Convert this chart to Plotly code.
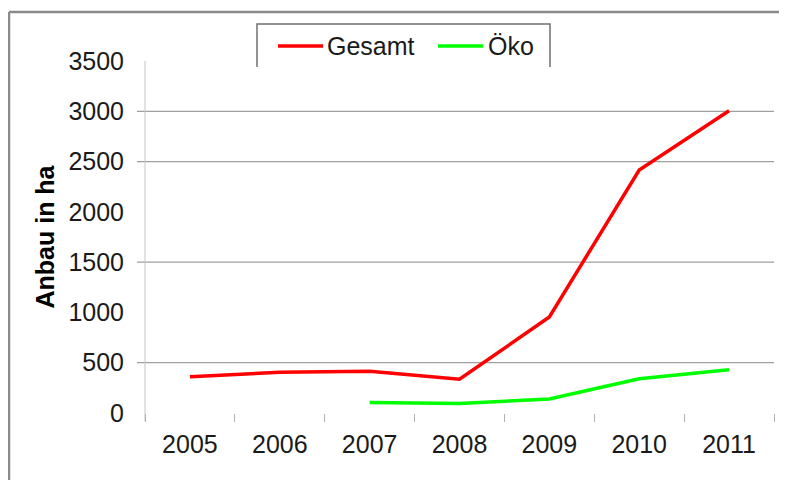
import plotly.graph_objects as go

years = ["2005", "2006", "2007", "2008", "2009", "2010", "2011"]
gesamt = [360, 405, 415, 335, 955, 2415, 3005]
oeko = [None, None, 105, 95, 140, 340, 430]
y_ticks = [0, 500, 1000, 1500, 2000, 2500, 3000, 3500]
grid_values = [500, 1500, 2500, 3000]
series_names = ["Gesamt", "Öko"]
series_colors = ["#ff0000", "#00ff00"]

FONT = "Liberation Sans, Arial, sans-serif"
OFF = 8  # page body margin offset
W, H = 787 - OFF, 480 - OFF
# plot area in window coordinates: x 145..774, y 61..413
L, T = 145 - OFF, 61 - OFF
R, B = (W + OFF) - 774, (H + OFF) - 413
PW, PH = W - L - R, H - T - B


def px(x):
    return (x - OFF - L) / PW


def py(y):
    return (H - B - (y - OFF)) / PH


fig = go.Figure()
fig.add_trace(go.Scatter(x=years, y=gesamt, mode="lines", name=series_names[0],
                         line=dict(color=series_colors[0], width=3.5), showlegend=False))
fig.add_trace(go.Scatter(x=years, y=oeko, mode="lines", name=series_names[1],
                         line=dict(color=series_colors[1], width=3.5), showlegend=False))

shapes = []
for g in grid_values:
    shapes.append(dict(type="line", xref="paper", yref="y", x0=px(137), x1=1, y0=g, y1=g,
                       line=dict(color="#a0a0a0", width=1.2), layer="below"))
# y axis line (extends a bit below zero like the tick marks)
shapes.append(dict(type="line", xref="paper", yref="paper", x0=0, x1=0, y0=py(421), y1=1,
                   line=dict(color="#c4c4c4", width=1), layer="below"))
# outer frame: top and left edges (right/bottom lie outside the picture)
shapes.append(dict(type="line", xref="paper", yref="paper",
                   x0=px(9), x1=px(800), y0=py(12), y1=py(12),
                   line=dict(color="#8a8a8a", width=2.5), layer="below"))
shapes.append(dict(type="line", xref="paper", yref="paper",
                   x0=px(9), x1=px(9), y0=py(490), y1=py(12),
                   line=dict(color="#8a8a8a", width=2.5), layer="below"))
# legend box (three sides)
shapes.append(dict(type="path", xref="paper", yref="paper",
                   path=f"M {px(257)},{py(67)} L {px(257)},{py(24)} L {px(550)},{py(24)} L {px(550)},{py(67)}",
                   line=dict(color="#707070", width=1.5)))
# legend samples
annotations = []
legend_items = [(278, 323, 325), (438, 483, 486)]
for (a, b, t), name, col in zip(legend_items, series_names, series_colors):
    shapes.append(dict(type="line", xref="paper", yref="paper", x0=px(a), x1=px(b),
                       y0=py(46), y1=py(46), line=dict(color=col, width=3.5)))
    annotations.append(dict(xref="paper", yref="paper", x=px(t), y=py(46), text=name,
                            showarrow=False, xanchor="left", yanchor="middle",
                            font=dict(size=25, family=FONT, color="#1a1a1a")))

fig.update_layout(
    width=W, height=H,
    margin=dict(l=L, r=R, t=T, b=B, autoexpand=False),
    paper_bgcolor="white", plot_bgcolor="white",
    font=dict(family=FONT, size=25, color="#1a1a1a"),
    showlegend=False,
    shapes=shapes,
    annotations=annotations,
    xaxis=dict(type="category", tickson="boundaries", ticks="outside", ticklen=8,
               tickcolor="#b0b0b0", tickwidth=1, showgrid=False, showline=False,
               zeroline=False, range=[-0.5, 6.5], automargin=False,
               ticklabelstandoff=14,
               tickfont=dict(size=25, family=FONT)),
    yaxis=dict(range=[0, 3500], tickvals=y_ticks, showgrid=False, showline=False,
               zeroline=False, ticks="", ticklabelstandoff=20, automargin=False,
               tickfont=dict(size=25, family=FONT),
               title=dict(text="<b>Anbau in ha</b>", font=dict(size=25, family=FONT, color="#000"),
                          standoff=6)),
)

fig.write_html("out.html")
